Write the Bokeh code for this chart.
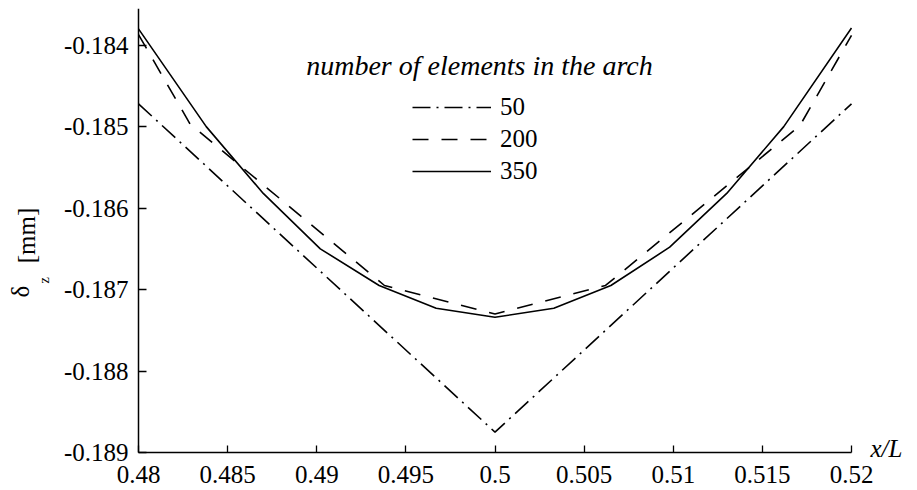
import math
from bokeh.plotting import figure
from bokeh.models import Range1d, FixedTicker, Label, Legend, LegendItem
from bokeh.embed import file_html
from bokeh.resources import INLINE

# ---- data ----
x_50 = [0.48, 0.50, 0.52]
y_50 = [-0.18472, -0.18875, -0.18472]

x_200 = [0.48, 0.4829, 0.4938, 0.50, 0.5062, 0.5171, 0.52]
y_200 = [-0.18387, -0.18497, -0.18695, -0.18730, -0.18695, -0.18499, -0.18388]

x_350 = [0.48, 0.4838, 0.4870, 0.4902, 0.4935, 0.4967, 0.50,
         0.5033, 0.5065, 0.5098, 0.5130, 0.5162, 0.52]
y_350 = [-0.18380, -0.18500, -0.18582, -0.18650, -0.18695, -0.18723, -0.18734,
         -0.18723, -0.18695, -0.18648, -0.18582, -0.18500, -0.18379]

series_labels = ["50", "200", "350"]
legend_title = "number of elements in the arch"

x_ticks = [0.48, 0.485, 0.49, 0.495, 0.5, 0.505, 0.51, 0.515, 0.52]
x_tick_labels = ["0.48", "0.485", "0.49", "0.495", "0.5", "0.505", "0.51", "0.515", "0.52"]
y_ticks = [-0.189, -0.188, -0.187, -0.186, -0.185, -0.184]
y_tick_labels = ["-0.189", "-0.188", "-0.187", "-0.186", "-0.185", "-0.184"]

x_min, x_max = 0.48, 0.52
y_min, y_max = -0.189, -0.18355

FONT = "Liberation Serif"
FS = "25px"

# layout: the frame covers the whole canvas; the axes run over px 138..851 and 8..452
W, H = 917, 490
AX_L, AX_R = 138, 851
AX_T, AX_B = 8, 452
pxu = (AX_R - AX_L) / (x_max - x_min)
pyu = (AX_B - AX_T) / (y_max - y_min)
xr = Range1d(x_min - AX_L / pxu, x_max + (W - AX_R) / pxu)
yr = Range1d(y_min - (H - AX_B) / pyu, y_max)

p = figure(width=W, height=H, output_backend="svg", toolbar_location=None,
           x_range=xr, y_range=yr,
           min_border_left=0, min_border_right=0, min_border_top=AX_T,
           min_border_bottom=0)
p.outline_line_color = None
p.grid.visible = False
p.background_fill_color = "white"
p.border_fill_color = "white"

for ax, ticks, labels in ((p.xaxis, x_ticks, x_tick_labels), (p.yaxis, y_ticks, y_tick_labels)):
    ax.ticker = FixedTicker(ticks=ticks)
    ax.major_label_overrides = {t: l for t, l in zip(ticks, labels)}
    ax.major_label_text_font = FONT
    ax.major_label_text_font_size = FS
    ax.major_label_text_color = "black"
    ax.axis_line_color = "black"
    ax.axis_line_width = 1.5
    ax.major_tick_line_color = "black"
    ax.major_tick_line_width = 1.3
    ax.major_tick_out = 0
    ax.minor_tick_line_color = None

p.xaxis.bounds = (x_min, x_max)
p.yaxis.bounds = (y_min, y_max)
p.xaxis.fixed_location = y_min
p.yaxis.fixed_location = x_min
p.xaxis.major_tick_in = 7
p.yaxis.major_tick_in = 8
p.xaxis.major_label_standoff = 13
p.yaxis.major_label_standoff = 10

r50 = p.line(x_50, y_50, line_color="black", line_width=1.6, line_dash="18 6 2 6")
r200 = p.line(x_200, y_200, line_color="black", line_width=1.6, line_dash="16 13")
r350 = p.line(x_350, y_350, line_color="black", line_width=1.6)

legend = Legend(items=[LegendItem(label=series_labels[0], renderers=[r50]),
                       LegendItem(label=series_labels[1], renderers=[r200]),
                       LegendItem(label=series_labels[2], renderers=[r350])],
                location=(412, 304), padding=0, margin=0, spacing=2,
                glyph_width=79, glyph_height=30, label_height=30, label_standoff=9,
                label_text_font=FONT, label_text_font_size=FS, label_text_color="black",
                border_line_color=None, background_fill_alpha=0)
p.add_layout(legend)

p.add_layout(Label(x=479, y=425, x_units="screen", y_units="screen", text=legend_title,
                   text_font=FONT, text_font_size="28px", text_font_style="italic",
                   text_color="black", text_align="center", text_baseline="alphabetic"))

# x-axis label at the right end of the axis
p.add_layout(Label(x=870, y=42, x_units="screen", y_units="screen", text="x/L",
                   text_font=FONT, text_font_size=FS, text_font_style="italic",
                   text_color="black", text_align="left", text_baseline="alphabetic"))

# y-axis label: delta with subscript z, then [mm]
p.add_layout(Label(x=20, y=199, x_units="screen", y_units="screen", text="δ",
                   angle=math.pi / 2, text_font=FONT, text_font_size=FS,
                   text_color="black", text_align="center", text_baseline="middle"))
p.add_layout(Label(x=43, y=210, x_units="screen", y_units="screen", text="z",
                   angle=math.pi / 2, text_font=FONT, text_font_size="15px",
                   text_color="black", text_align="center", text_baseline="middle"))
p.add_layout(Label(x=26, y=255, x_units="screen", y_units="screen", text="[mm]",
                   angle=math.pi / 2, text_font=FONT, text_font_size=FS,
                   text_color="black", text_align="center", text_baseline="middle"))

open("out.html", "w").write(file_html(p, INLINE))
